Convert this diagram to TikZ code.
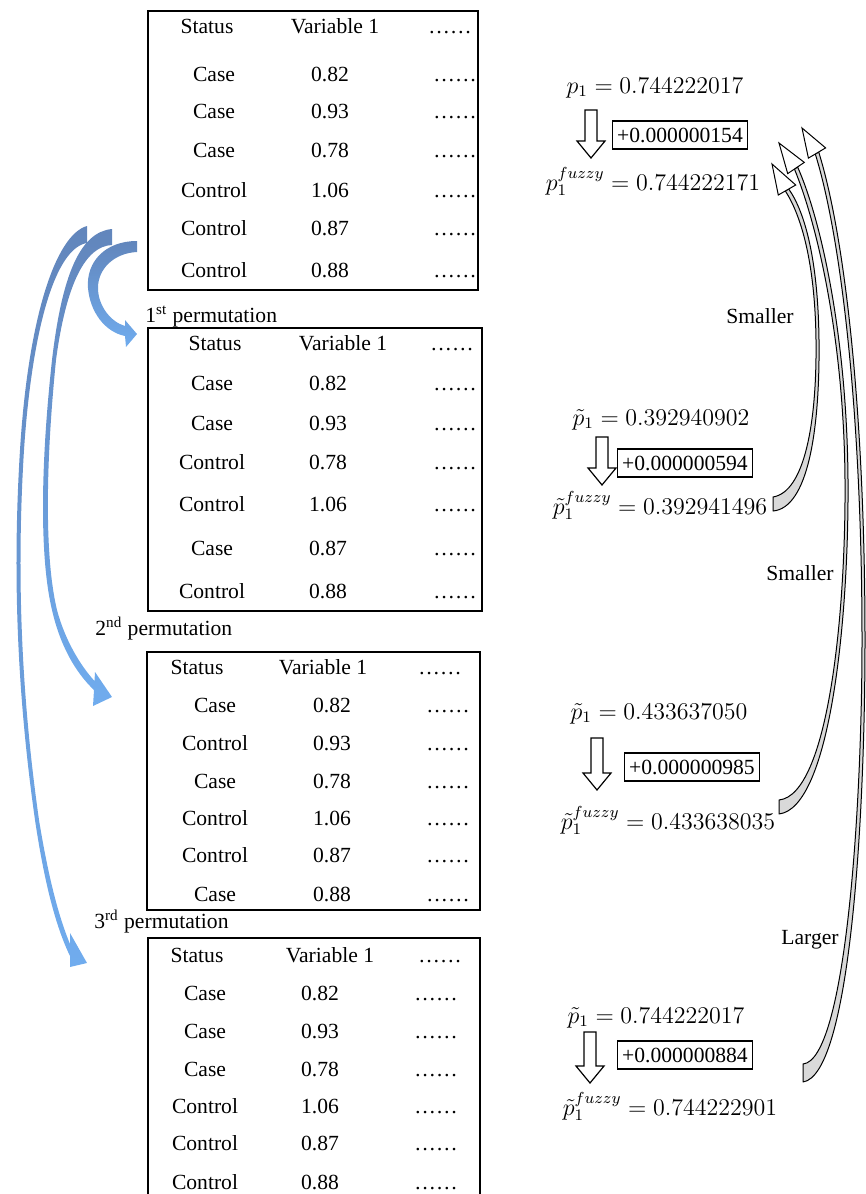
\documentclass[tikz,border=0pt]{standalone}
\usepackage{fontspec}
\setmainfont{Liberation Serif}
\usepackage{amsmath}
\usepackage{tikz}
\usetikzlibrary{calc}
\tikzset{>=stealth}
\definecolor{permdark}{RGB}{98,134,188}
\definecolor{permlight}{RGB}{112,172,238}
\tikzset{cell/.style={inner sep=0pt,text height=7.5pt,text depth=2pt},
  tabbox/.style={draw,line width=0.7pt,inner sep=0pt},
  addbox/.style={draw,line width=0.6pt,inner xsep=2.5pt,inner ysep=0pt,minimum height=14pt},
  pval/.style={anchor=base,inner sep=0pt,font=\fontsize{12}{14}\selectfont},
  permarrow/.style={top color=permdark,bottom color=permlight,draw=none},
  fuzzband/.style={fill=gray!30,draw=black,line width=0.5pt,line join=round},
  fuzzhead/.style={fill=white,draw=black,line width=0.5pt}}
\newcommand{\blockdown}[3]{\draw[line width=0.6pt,fill=white] (#1-6,#2) -- (#1+6,#2) -- (#1+6,#3-17) -- (#1+14,#3-17) -- (#1,#3) -- (#1-14,#3-17) -- (#1-6,#3-17) -- cycle;}

\begin{document}
\begin{tikzpicture}[x=0.5pt,y=-0.5pt,font=\fontsize{10.8}{13}\selectfont]
  \useasboundingbox (0,0) rectangle (866,1194);

  \node[tabbox,minimum width=165pt,minimum height=139.5pt] (tab1) at (313,150.5) {};
  \node[cell] (t1h1) at (207,28) {Status};
  \node[cell] (t1h2) at (335,28) {Variable 1};
  \node[cell] (t1h3) at (450,28) {\ldots\ldots};
  \foreach \s/\v/\y [count=\i] in {Case/0.82/76,Case/0.93/113,Case/0.78/152,Control/1.06/192,Control/0.87/230,Control/0.88/272}{
    \node[cell] (t1s\i) at (214,\y) {\s};
    \node[cell] (t1v\i) at (330,\y) {\v};
    \node[cell] (t1d\i) at (455,\y) {\ldots\ldots};
  }
  \node[anchor=base west,inner sep=0pt] (perm1) at (145,322) {1\textsuperscript{st} permutation};

  \node[tabbox,minimum width=167pt,minimum height=141.5pt] (tab2) at (315,469.5) {};
  \node[cell] (t2h1) at (215,345) {Status};
  \node[cell] (t2h2) at (343,345) {Variable 1};
  \node[cell] (t2h3) at (452,345) {\ldots\ldots};
  \foreach \s/\v/\y [count=\i] in {Case/0.82/385,Case/0.93/425,Control/0.78/464,Control/1.06/506,Case/0.87/550,Control/0.88/593}{
    \node[cell] (t2s\i) at (212,\y) {\s};
    \node[cell] (t2v\i) at (328,\y) {\v};
    \node[cell] (t2d\i) at (455,\y) {\ldots\ldots};
  }
  \node[anchor=base west,inner sep=0pt] (perm2) at (95,635) {2\textsuperscript{nd} permutation};

  \node[tabbox,minimum width=166.5pt,minimum height=129pt] (tab3) at (313.5,781) {};
  \node[cell] (t3h1) at (197,669) {Status};
  \node[cell] (t3h2) at (323,669) {Variable 1};
  \node[cell] (t3h3) at (440,669) {\ldots\ldots};
  \foreach \s/\v/\y [count=\i] in {Case/0.82/707,Control/0.93/745,Case/0.78/783,Control/1.06/820,Control/0.87/857,Case/0.88/896}{
    \node[cell] (t3s\i) at (215,\y) {\s};
    \node[cell] (t3v\i) at (332,\y) {\v};
    \node[cell] (t3d\i) at (448,\y) {\ldots\ldots};
  }
  \node[anchor=base west,inner sep=0pt] (perm3) at (94,928) {3\textsuperscript{rd} permutation};

  \node[tabbox,minimum width=166pt,minimum height=136pt] (tab4) at (314,1074) {};
  \node[cell] (t4h1) at (197,957) {Status};
  \node[cell] (t4h2) at (330,957) {Variable 1};
  \node[cell] (t4h3) at (440,957) {\ldots\ldots};
  \foreach \s/\v/\y [count=\i] in {Case/0.82/995,Case/0.93/1033,Case/0.78/1071,Control/1.06/1108,Control/0.87/1145,Control/0.88/1184}{
    \node[cell] (t4s\i) at (205,\y) {\s};
    \node[cell] (t4v\i) at (320,\y) {\v};
    \node[cell] (t4d\i) at (436,\y) {\ldots\ldots};
  }

  \coordinate (b3tip) at (87,963);
  \coordinate (b2tip) at (112,697);
  \coordinate (b1tip) at (137,334);
  \shade[permarrow] (87,226) .. controls (55,235) and (28,320) .. (20,450) .. controls (12,580) and (18,700) .. (35,820) .. controls (44,880) and (55,925) .. (70,956) -- (70,967) -- (b3tip) -- (70,933) -- (70,944) .. controls (58,915) and (48,875) .. (39,820) .. controls (22,700) and (16,580) .. (24,450) .. controls (32,330) and (55,248) .. (87,243) -- cycle;
  \shade[permarrow] (112,229) .. controls (80,232) and (62,275) .. (52,360) .. controls (40,470) and (40,560) .. (52,610) .. controls (60,645) and (75,672) .. (94,690) -- (93,706) -- (b2tip) -- (95,672) -- (94.5,681) .. controls (80,665) and (65,640) .. (57,610) .. controls (45,560) and (45,470) .. (56,360) .. controls (66,285) and (85,246) .. (112,245) -- cycle;
  \shade[permarrow] (137,241) .. controls (105,241) and (86,262) .. (88,288) .. controls (90,312) and (105,332) .. (125,336) -- (126,347) -- (b1tip) -- (125,320) -- (125,326) .. controls (111,322) and (98,306) .. (98,288) .. controls (98,268) and (115,253) .. (137,252) -- cycle;

  \node[pval] (p1) at (655,93) {$p_1 = 0.744222017$};
  \blockdown{591}{110}{158}
  \node[addbox] (add1) at (680,135) {+0.000000154};
  \node[pval] (f1) at (653,190) {$p_1^{fuzzy} = 0.744222171$};

  \node[pval] (p2) at (661,425) {$\tilde{p}_1 = 0.392940902$};
  \blockdown{602}{437}{485}
  \node[addbox] (add2) at (685,463) {+0.000000594};
  \node[pval] (f2) at (660,514) {$\tilde{p}_1^{fuzzy} = 0.392941496$};

  \node[pval] (p3) at (659,719) {$\tilde{p}_1 = 0.433637050$};
  \blockdown{597}{738}{790}
  \node[addbox] (add3) at (692,767) {+0.000000985};
  \node[pval] (f3) at (668,829) {$\tilde{p}_1^{fuzzy} = 0.433638035$};

  \node[pval] (p4) at (656,1023) {$\tilde{p}_1 = 0.744222017$};
  \blockdown{590}{1032}{1083}
  \node[addbox] (add4) at (685,1055) {+0.000000884};
  \node[pval] (f4) at (670,1115) {$\tilde{p}_1^{fuzzy} = 0.744222901$};

  \coordinate (g1tip) at (772,164);
  \coordinate (g2tip) at (779,143);
  \coordinate (g3tip) at (802,128);
  \filldraw[fuzzband] (803,1064) -- (803,1082) .. controls (850,1075) and (865,820) .. (865,640) .. controls (865,420) and (846,240) .. (818.7,152) -- (815.3,154) .. controls (842,240) and (862,420) .. (862,640) .. controls (862,815) and (845,1060) .. (803,1064) -- cycle;
  \filldraw[fuzzhead] (825.6,147.9) -- (g3tip) -- (808.4,158.1) -- cycle;
  \filldraw[fuzzband] (779,800) -- (779,814) .. controls (830,808) and (849,620) .. (848,480) .. controls (847,340) and (822,222) .. (797.6,167) -- (794.4,169) .. controls (818,226) and (844,342) .. (845,480) .. controls (846,615) and (828,795) .. (779,800) -- cycle;
  \filldraw[fuzzhead] (804.3,162.4) -- (g2tip) -- (787.7,173.6) -- cycle;
  \filldraw[fuzzband] (773,497) -- (773,511) .. controls (808,508) and (820,430) .. (819,340) .. controls (818,260) and (805,212) .. (788.7,189) -- (785.3,191) .. controls (801,215) and (815,262) .. (816,340) .. controls (817,425) and (804,492) .. (773,497) -- cycle;
  \filldraw[fuzzhead] (795.7,185) -- (g1tip) -- (778.3,195) -- cycle;

  \node (lab1) at (760,316) {Smaller};
  \node (lab2) at (800,573) {Smaller};
  \node (lab3) at (810,940) {Larger};
\end{tikzpicture}
\end{document}
